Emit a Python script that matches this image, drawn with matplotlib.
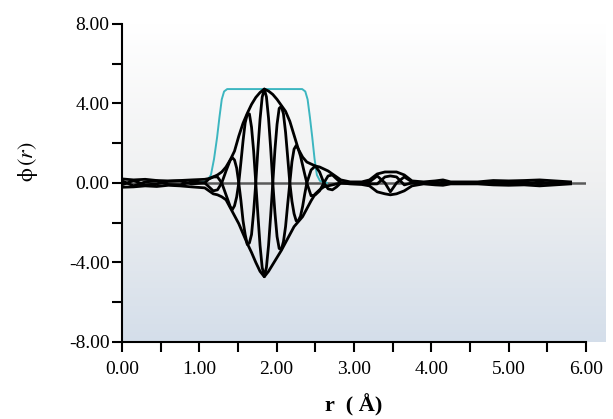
import numpy as np
import matplotlib
matplotlib.use("Agg")
import matplotlib.pyplot as plt
from matplotlib.colors import LinearSegmentedColormap
from matplotlib.ticker import MultipleLocator, FormatStrFormatter

plt.rcParams["font.family"] = ["Liberation Serif", "DejaVu Serif"]
plt.rcParams["mathtext.fontset"] = "stix"

# envelopes, r in Angstrom
env_r = [0.0, 0.15, 0.3, 0.45, 0.6, 0.75, 0.9,
         1.07, 1.125, 1.18, 1.235, 1.29, 1.345, 1.40, 1.455, 1.51, 1.565, 1.62,
         1.675, 1.73, 1.785, 1.84, 1.895, 1.95, 2.005, 2.06, 2.115, 2.17, 2.225,
         2.28, 2.335, 2.39, 2.445, 2.50, 2.555, 2.61, 2.665, 2.72, 2.775, 2.83,
         2.95, 3.1, 3.2, 3.3, 3.4, 3.47, 3.55, 3.65, 3.75, 3.9, 4.05, 4.15, 4.25,
         4.4, 4.6, 4.8, 5.0, 5.2, 5.4, 5.6, 5.8]

env_upper = [0.2, 0.15, 0.18, 0.12, 0.1, 0.12, 0.15,
             0.18, 0.22, 0.3, 0.4, 0.55, 0.8, 1.16, 1.6, 2.35, 3.0, 3.5,
             3.95, 4.3, 4.55, 4.72, 4.62, 4.45, 4.2, 3.9, 3.6, 3.1, 2.4,
             1.7, 1.3, 1.05, 0.95, 0.85, 0.8, 0.7, 0.6, 0.45, 0.3, 0.15,
             0.05, 0.05, 0.15, 0.45, 0.55, 0.55, 0.55, 0.4, 0.1, 0.05, 0.1, 0.15, 0.05,
             0.05, 0.05, 0.12, 0.1, 0.12, 0.15, 0.1, 0.05]

env_lower = [-0.22, -0.2, -0.15, -0.18, -0.12, -0.15, -0.2,
             -0.25, -0.4, -0.55, -0.6, -0.7, -0.85, -1.25, -1.65, -2.05, -2.55, -3.05,
             -3.5, -4.0, -4.45, -4.72, -4.45, -4.1, -3.75, -3.4, -3.0, -2.6, -2.2,
             -1.95, -1.7, -1.3, -0.9, -0.55, -0.35, -0.2, -0.15, -0.1, -0.05, 0.0,
             -0.05, -0.08, -0.15, -0.45, -0.55, -0.6, -0.55, -0.4, -0.15, -0.05, -0.1, -0.12, -0.05,
             -0.05, -0.05, -0.1, -0.12, -0.1, -0.15, -0.1, -0.05]

# oscillating functions, denser in the core
wave_r = [0.0, 0.15, 0.3, 0.45, 0.6, 0.75, 0.9,
          1.07, 1.125, 1.18, 1.235, 1.29, 1.345,
          1.40, 1.4275, 1.455, 1.4825, 1.51, 1.5375, 1.565, 1.5925, 1.62, 1.6475,
          1.675, 1.7025, 1.73, 1.7575, 1.785, 1.8125, 1.84, 1.8675, 1.895, 1.9225,
          1.95, 1.9775, 2.005, 2.0325, 2.06, 2.0875, 2.115, 2.1425, 2.17, 2.1975,
          2.225, 2.2525, 2.28, 2.3075, 2.335, 2.3625, 2.39,
          2.445, 2.50, 2.555, 2.61, 2.665, 2.72, 2.775, 2.83,
          2.95, 3.1, 3.2, 3.3, 3.4, 3.47, 3.55, 3.65, 3.75, 3.9, 4.05, 4.15, 4.25,
          4.4, 4.6, 4.8, 5.0, 5.2, 5.4, 5.6, 5.8]

wave_a = [0.1, -0.15, 0.05, 0.1, -0.08, -0.1, 0.05,
          0.0, -0.2, -0.4, -0.35, 0.0, 0.6,
          1.15, 1.27, 1.15, 0.75, 0.0, -0.88, -1.9, -2.59, -3.1, -3.02,
          -2.6, -1.44, 0.0, 1.70, 3.2, 4.31, 4.72, 4.33, 3.25, 1.74,
          0.0, -1.50, -2.7, -3.30, -3.35, -2.96, -2.2, -1.07, 0.0, 1.06,
          1.7, 1.88, 1.7, 1.36, 0.9, 0.44, 0.0,
          -0.65, -0.6, -0.4, 0.0, 0.35, 0.4, 0.2, 0.0,
          0.0, 0.0, 0.05, 0.35, 0.0, -0.45, 0.0, 0.3, 0.05, 0.0, -0.05, 0.05, 0.0,
          0.0, 0.0, 0.05, -0.05, 0.05, -0.05, 0.05, 0.0]

wave_b = [-0.1, 0.12, -0.1, -0.05, 0.08, 0.1, -0.05,
          0.0, 0.2, 0.3, 0.3, 0.0, -0.6,
          -1.2, -1.34, -1.15, -0.71, 0.0, 1.03, 2.1, 3.02, 3.45, 3.47,
          2.8, 1.59, 0.0, -1.62, -3.15, -4.25, -4.72, -4.25, -3.15, -1.64,
          0.0, 1.66, 2.95, 3.75, 3.85, 3.48, 2.55, 1.29, 0.0, -0.92,
          -1.55, -1.91, -1.9, -1.68, -1.2, -0.57, 0.0,
          0.65, 0.85, 0.55, 0.0, -0.3, -0.35, -0.2, 0.0,
          0.0, 0.0, -0.05, -0.05, 0.3, 0.35, 0.3, -0.1, 0.0, 0.0, 0.05, -0.05, 0.0,
          0.0, 0.0, -0.05, 0.05, -0.05, 0.05, -0.05, 0.0]

# cyan window function
win_r = [1.0, 1.1, 1.15, 1.19, 1.23, 1.26, 1.29, 1.32, 1.36,
         2.33, 2.37, 2.40, 2.43, 2.46, 2.49, 2.52, 2.56, 2.65]
win_v = [0.0, 0.1, 0.4, 1.2, 2.3, 3.3, 4.2, 4.6, 4.72,
         4.72, 4.6, 4.2, 3.3, 2.3, 1.2, 0.4, 0.1, 0.0]

fig = plt.figure(figsize=(6.13, 4.19), dpi=100)
ax = fig.add_axes([0.199, 0.184, 0.757, 0.759])

# background gradient (white at top -> pale blue at bottom)
cmap = LinearSegmentedColormap.from_list("bg", ["#ffffff", "#eff0f1", "#d4deea"])
grad = np.linspace(0, 1, 256).reshape(-1, 1)
bg = ax.imshow(grad, cmap=cmap, aspect="auto", extent=(0, 6.25, -8, 8),
               origin="upper", zorder=0)
bg.set_clip_on(False)

ax.plot([0, 6.0], [0, 0], color="#5a5a5a", lw=1.8, zorder=1)
ax.plot(win_r, win_v, color="#3cb6c0", lw=1.4, zorder=2)
ax.plot(env_r, env_upper, color="black", lw=2.0, zorder=3)
ax.plot(env_r, env_lower, color="black", lw=2.0, zorder=3)
ax.plot(wave_r, wave_a, color="black", lw=2.0, zorder=3)
ax.plot(wave_r, wave_b, color="black", lw=2.0, zorder=3)

ax.set_xlim(0, 6)
ax.set_ylim(-8, 8)
ax.set_facecolor("none")
for s in ["top", "right"]:
    ax.spines[s].set_visible(False)
for s in ["left", "bottom"]:
    ax.spines[s].set_linewidth(1.5)
    ax.spines[s].set_zorder(4)

ax.xaxis.set_major_locator(MultipleLocator(1))
ax.xaxis.set_minor_locator(MultipleLocator(0.5))
ax.yaxis.set_major_locator(MultipleLocator(4))
ax.yaxis.set_minor_locator(MultipleLocator(2))
ax.xaxis.set_major_formatter(FormatStrFormatter("%.2f"))
ax.yaxis.set_major_formatter(FormatStrFormatter("%.2f"))
ax.tick_params(which="both", direction="out", width=1.5, length=7, labelsize=14,
               colors="black")
ax.tick_params(axis="x", pad=6.5)
ax.tick_params(axis="y", pad=2)

ax.set_xlabel("r  ( Å)", fontsize=16, fontweight="bold", labelpad=12)
ax.set_ylabel(r"$\mathrm{\phi}\,(r)$", fontsize=16)
ax.yaxis.set_label_coords(-0.177, 0.566)

plt.savefig("out.png", dpi=100)
